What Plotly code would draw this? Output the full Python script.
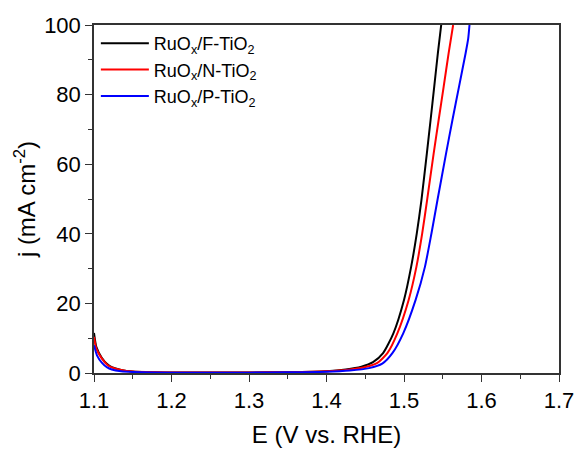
import plotly.graph_objects as go

# Series data (E in V vs. RHE, j in mA cm^-2)
e_f = [1.100, 1.103, 1.110, 1.117, 1.123, 1.135, 1.150, 1.200, 1.300, 1.350, 1.400,
       1.425, 1.445, 1.460, 1.473, 1.4863, 1.500, 1.5092, 1.5165, 1.5225, 1.5295,
       1.5343, 1.5390, 1.5437, 1.5480]
j_f = [11.5, 7.5, 4.4, 2.6, 1.7, 0.9, 0.45, 0.15, 0.15, 0.25, 0.5,
       1.0, 1.8, 3.1, 5.7, 11.4, 21.0, 30.5, 40.1, 49.7, 63.1,
       72.7, 82.3, 91.9, 100]

e_n = [1.100, 1.103, 1.110, 1.117, 1.123, 1.135, 1.150, 1.200, 1.300, 1.350, 1.400,
       1.428, 1.450, 1.4656, 1.4785, 1.4914, 1.506, 1.5160, 1.5235, 1.5298, 1.5383,
       1.5447, 1.5512, 1.5576, 1.5634]
j_n = [10.4, 7.0, 4.2, 2.4, 1.6, 0.85, 0.4, 0.15, 0.15, 0.25, 0.5,
       0.95, 1.7, 2.9, 5.7, 11.4, 21.0, 30.5, 40.1, 49.7, 63.1,
       72.7, 82.3, 91.9, 100]

e_p = [1.100, 1.104, 1.110, 1.117, 1.123, 1.135, 1.150, 1.200, 1.300, 1.350, 1.400,
       1.430, 1.455, 1.472, 1.485, 1.499, 1.515, 1.5270, 1.5354, 1.5432, 1.5543,
       1.5625, 1.5710, 1.5795, 1.5828, 1.5845]
j_p = [8.0, 5.0, 3.0, 1.6, 1.0, 0.5, 0.3, 0.1, 0.1, 0.2, 0.35,
       0.7, 1.4, 2.7, 5.7, 11.4, 21.0, 30.5, 40.1, 49.7, 63.1,
       72.7, 82.3, 91.9, 96.0, 100]

names = ["RuO<sub>x</sub>/F-TiO<sub>2</sub>",
         "RuO<sub>x</sub>/N-TiO<sub>2</sub>",
         "RuO<sub>x</sub>/P-TiO<sub>2</sub>"]
colors = ["#000000", "#ff0000", "#0000ff"]

x_ticks = [1.1, 1.2, 1.3, 1.4, 1.5, 1.6, 1.7]
y_ticks = [0, 20, 40, 60, 80, 100]

fig = go.Figure()
for ex, jy, nm, c in zip([e_f, e_n, e_p], [j_f, j_n, j_p], names, colors):
    fig.add_trace(go.Scatter(x=ex, y=jy, name=nm, mode="lines",
                             line=dict(color=c, width=2, shape="spline", smoothing=0.6)))

font = "Liberation Sans, Arial, sans-serif"
axcol = "#333333"
fig.update_layout(
    width=577, height=456,
    margin=dict(l=94, r=18, t=25, b=83, autoexpand=False),
    paper_bgcolor="white", plot_bgcolor="white",
    font=dict(family=font, color="black"),
    showlegend=True,
    legend=dict(x=0.004, y=1.0, xanchor="left", yanchor="top",
                font=dict(size=18, family=font), bgcolor="rgba(0,0,0,0)",
                itemwidth=48, tracegroupgap=0),
    xaxis=dict(range=[1.1, 1.7], tickvals=x_ticks, automargin=False,
               ticktext=[f"{v:.1f}" for v in x_ticks],
               ticks="outside", ticklen=7, tickwidth=1.2, tickcolor=axcol,
               minor=dict(ticks="outside", ticklen=4, dtick=0.05, tickcolor=axcol),
               showline=True, linecolor=axcol, linewidth=1.5, mirror=True,
               showgrid=False, zeroline=False,
               tickfont=dict(size=22),
               title=dict(text="E (V vs. RHE)", font=dict(size=24), standoff=14)),
    yaxis=dict(range=[0, 100], tickvals=y_ticks, automargin=False,
               ticks="outside", ticklen=7, tickwidth=1.2, tickcolor=axcol,
               minor=dict(ticks="outside", ticklen=4, dtick=10, tickcolor=axcol),
               showline=True, linecolor=axcol, linewidth=1.5, mirror=True,
               showgrid=False, zeroline=False,
               tickfont=dict(size=22),
               title=dict(text="j (mA cm<sup>-2</sup>)", font=dict(size=24), standoff=2)),
)

fig.write_html("out.html", config={"displayModeBar": False},
               post_script="document.body.style.margin='0';document.body.style.overflow='hidden';")
